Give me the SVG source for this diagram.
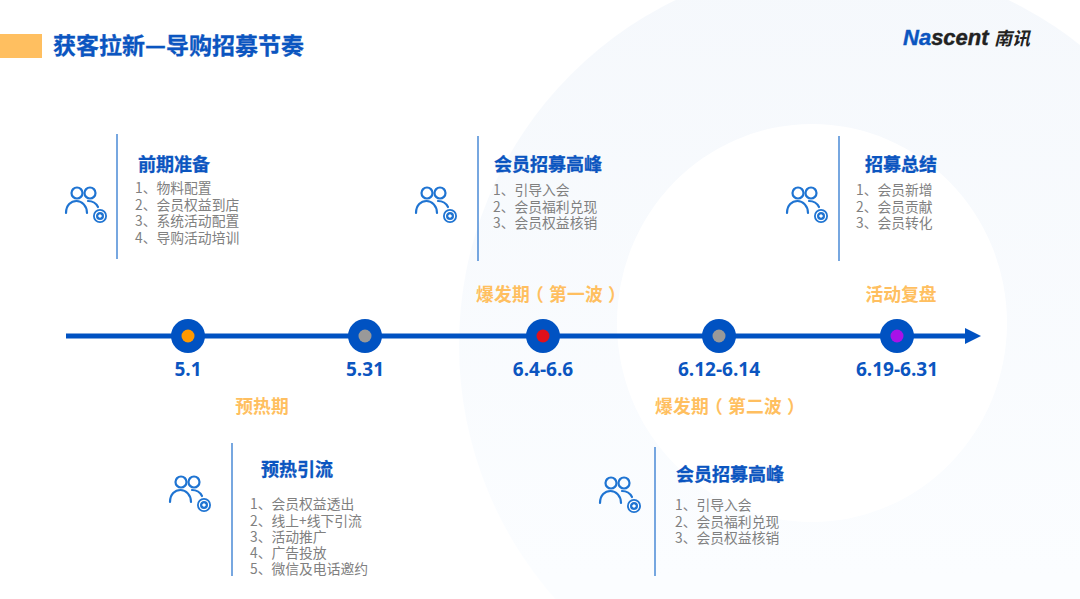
<svg xmlns="http://www.w3.org/2000/svg" width="1080" height="599" viewBox="0 0 1080 599">
<style>
text{font-family:"Noto Sans CJK SC","Liberation Sans",sans-serif}
.h{font-size:18px;font-weight:700;fill:#0b55c0;stroke:#0b55c0;stroke-width:.3px}
.b{font-size:13.800px;fill:#808080}
.p{font-size:17.800px;font-weight:700;fill:#ffbf60;text-anchor:middle}
.s{text-anchor:start}
.d{font-size:19px;font-weight:700;fill:#0b55c0;text-anchor:middle;font-family:"Open Sans","Liberation Sans",sans-serif}
.v{stroke:#4a8ad6;stroke-width:1.500;fill:none}
.r{fill:#0052c2}
.ic{fill:none;stroke:#1f74d2;stroke-width:2.200;stroke-linecap:round}
</style>
<defs>
<linearGradient id="pale" x1="0" y1="0" x2="0" y2="1">
<stop offset="0" stop-color="#f5f8fc"/>
<stop offset="0.800" stop-color="#fbfdff"/>
</linearGradient>
<g id="icon">
<circle class="ic" cx="-6" cy="-12" r="5.500"/>
<circle class="ic" cx="7" cy="-12" r="5.500"/>
<path class="ic" d="M-17 8C-17 0-12-4-6.500-4C-1-4 4 1 4 8"/>
<path class="ic" d="M5-4C10-4 13-2 15 2"/>
<circle cx="17" cy="11" r="7" fill="#1f74d2"/>
<circle cx="17" cy="11" r="4.600" fill="none" stroke="#fff" stroke-width="1.200"/>
<rect x="15.500" y="9.500" width="3" height="3" fill="#fff" transform="rotate(45 17 11)"/>
</g>
</defs>
<rect width="1080" height="599" fill="#fff"/>
<g id="background">
<circle cx="842" cy="345" r="383" fill="url(#pale)"/>
<ellipse cx="812" cy="323" rx="195" ry="199" fill="#fff"/>
</g>
<g id="title">
<rect x="0" y="34" width="42" height="24" fill="#ffbf60"/>
<text x="53" y="53.500" font-size="23" font-weight="700" fill="#0b55c0" stroke="#0b55c0" stroke-width=".3">获客拉新—导购招募节奏</text>
</g>
<g id="logo">
<text x="903" y="45" font-size="22" font-weight="700" font-style="italic" stroke-width=".4" style="font-family:'Liberation Sans',sans-serif"><tspan fill="#0b55c0" stroke="#0b55c0">Na</tspan><tspan fill="#222" stroke="#222">scent</tspan></text>
<text x="994" y="44.500" font-size="18" font-weight="700" fill="#222" font-style="italic">南讯</text>
</g>
<g id="connectors">
<line x1="66" y1="336" x2="966" y2="336" stroke="#0052c2" stroke-width="5"/>
<path d="M965 328L981 336L965 344Z" fill="#0052c2"/>
</g>
<g id="node-5-1"><circle class="r" cx="188" cy="336" r="17"/><circle cx="188" cy="336" r="6.500" fill="#ff9900"/><text class="d" x="188" y="376">5.1</text></g>
<g id="node-5-31"><circle class="r" cx="365" cy="336" r="17"/><circle cx="365" cy="336" r="6.500" fill="#999"/><text class="d" x="365" y="376">5.31</text></g>
<g id="node-6-4"><circle class="r" cx="543" cy="336" r="17"/><circle cx="543" cy="336" r="6.500" fill="#e0101a"/><text class="d" x="543" y="376">6.4-6.6</text></g>
<g id="node-6-12"><circle class="r" cx="719" cy="336" r="17"/><circle cx="719" cy="336" r="6.500" fill="#999"/><text class="d" x="719" y="376">6.12-6.14</text></g>
<g id="node-6-19"><circle class="r" cx="897" cy="336" r="17"/><circle cx="897" cy="336" r="6.500" fill="#a812e8"/><text class="d" x="897" y="376">6.19-6.31</text></g>
<g id="phases">
<text class="p" x="262" y="413">预热期</text>
<text class="p s" x="476 494 512 526 549 567 585 608" y="301">爆发期（第一波）</text>
<text class="p s" x="655 673 691 705 728 746 764 787" y="413">爆发期（第二波）</text>
<text class="p" x="901" y="301">活动复盘</text>
</g>
<g id="card-prep">
<line class="v" x1="117" y1="134" x2="117" y2="259"/>
<use href="#icon" x="83" y="205"/>
<text class="h" x="138" y="171">前期准备</text>
<text class="b" x="135" y="192.500">1、物料配置</text>
<text class="b" x="135" y="209.500">2、会员权益到店</text>
<text class="b" x="135" y="225.500">3、系统活动配置</text>
<text class="b" x="135" y="242.500">4、导购活动培训</text>
</g>
<g id="card-peak1">
<line class="v" x1="478" y1="136" x2="478" y2="261"/>
<use href="#icon" x="433" y="205"/>
<text class="h" x="494" y="171">会员招募高峰</text>
<text class="b" x="493" y="194.500">1、引导入会</text>
<text class="b" x="493" y="211.500">2、会员福利兑现</text>
<text class="b" x="493" y="227.500">3、会员权益核销</text>
</g>
<g id="card-summary">
<line class="v" x1="839" y1="136" x2="839" y2="261"/>
<use href="#icon" x="804" y="205"/>
<text class="h" x="865" y="171">招募总结</text>
<text class="b" x="856" y="194.500">1、会员新增</text>
<text class="b" x="856" y="211.500">2、会员贡献</text>
<text class="b" x="856" y="227.500">3、会员转化</text>
</g>
<g id="card-warm">
<line class="v" x1="232" y1="443" x2="232" y2="576"/>
<use href="#icon" x="187" y="494"/>
<text class="h" x="261" y="476">预热引流</text>
<text class="b" x="250" y="508.500">1、会员权益透出</text>
<text class="b" x="250" y="525.500">2、线上+线下引流</text>
<text class="b" x="250" y="541.500">3、活动推广</text>
<text class="b" x="250" y="557.500">4、广告投放</text>
<text class="b" x="250" y="573.500">5、微信及电话邀约</text>
</g>
<g id="card-peak2">
<line class="v" x1="655" y1="447" x2="655" y2="576"/>
<use href="#icon" x="617" y="495"/>
<text class="h" x="676" y="481">会员招募高峰</text>
<text class="b" x="675" y="509.500">1、引导入会</text>
<text class="b" x="675" y="526.500">2、会员福利兑现</text>
<text class="b" x="675" y="542.500">3、会员权益核销</text>
</g>
</svg>
